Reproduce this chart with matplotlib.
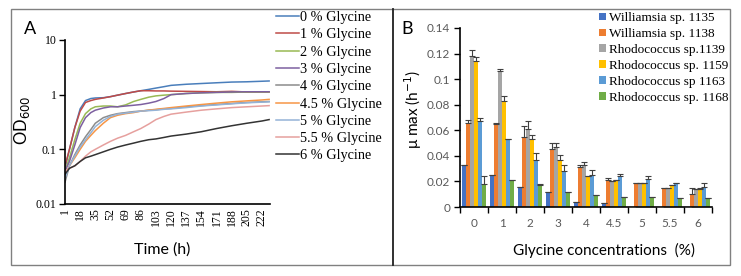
import matplotlib
matplotlib.use("Agg")
import matplotlib.pyplot as plt
import numpy as np
from matplotlib.lines import Line2D
from matplotlib.patches import Rectangle

# ---------------- Panel A data ----------------
time_h = [1, 6, 12, 18, 24, 30, 35, 44, 52, 60, 69, 78, 86, 95, 103, 112, 120, 137, 154, 171, 188, 205, 222, 230]
od_0 = [0.045, 0.1, 0.25, 0.55, 0.78, 0.85, 0.87, 0.88, 0.92, 0.98, 1.05, 1.12, 1.18, 1.25, 1.32, 1.4, 1.48, 1.55, 1.6, 1.65, 1.7, 1.72, 1.76, 1.78]
od_1 = [0.05, 0.1, 0.25, 0.5, 0.72, 0.78, 0.82, 0.87, 0.92, 0.98, 1.05, 1.12, 1.18, 1.18, 1.17, 1.17, 1.16, 1.15, 1.14, 1.13, 1.15, 1.12, 1.12, 1.12]
od_2 = [0.04, 0.07, 0.15, 0.3, 0.45, 0.55, 0.6, 0.62, 0.62, 0.6, 0.65, 0.75, 0.82, 0.9, 0.95, 0.98, 1.0, 1.05, 1.08, 1.1, 1.1, 1.12, 1.12, 1.12]
od_3 = [0.04, 0.06, 0.12, 0.25, 0.38, 0.47, 0.52, 0.57, 0.6, 0.6, 0.62, 0.64, 0.66, 0.7, 0.75, 0.85, 1.0, 1.05, 1.08, 1.1, 1.12, 1.13, 1.13, 1.13]
od_4 = [0.025, 0.05, 0.08, 0.12, 0.17, 0.23, 0.3, 0.38, 0.42, 0.45, 0.47, 0.49, 0.5, 0.52, 0.53, 0.55, 0.56, 0.6, 0.63, 0.66, 0.69, 0.72, 0.74, 0.75]
od_45 = [0.035, 0.05, 0.07, 0.1, 0.14, 0.18, 0.22, 0.3, 0.38, 0.42, 0.45, 0.47, 0.5, 0.52, 0.54, 0.56, 0.58, 0.62, 0.66, 0.7, 0.74, 0.77, 0.8, 0.82]
od_5 = [0.03, 0.05, 0.075, 0.11, 0.15, 0.2, 0.26, 0.34, 0.4, 0.44, 0.46, 0.48, 0.5, 0.51, 0.52, 0.54, 0.55, 0.58, 0.62, 0.65, 0.68, 0.71, 0.73, 0.74]
od_55 = [0.04, 0.045, 0.05, 0.06, 0.075, 0.09, 0.1, 0.12, 0.14, 0.16, 0.18, 0.21, 0.24, 0.29, 0.35, 0.4, 0.44, 0.48, 0.52, 0.55, 0.58, 0.6, 0.62, 0.63]
od_6 = [0.035, 0.045, 0.05, 0.06, 0.07, 0.075, 0.08, 0.09, 0.1, 0.11, 0.12, 0.13, 0.14, 0.15, 0.155, 0.165, 0.175, 0.19, 0.21, 0.24, 0.27, 0.3, 0.33, 0.35]
series_a = [od_0, od_1, od_2, od_3, od_4, od_45, od_5, od_55, od_6]
labels_a = ["0 % Glycine", "1 % Glycine", "2 % Glycine", "3 % Glycine", "4 % Glycine",
            "4.5 % Glycine", "5 % Glycine", "5.5 % Glycine", "6 % Glycine"]
colors_a = ["#4A7EBB", "#BE4B48", "#98B954", "#7D60A0", "#8C8C8C",
            "#F79646", "#95B3D7", "#E6A09E", "#333333"]
xticks_a = [1, 18, 35, 52, 69, 86, 103, 120, 137, 154, 171, 188, 205, 222]

# ---------------- Panel B data ----------------
glycine = ["0", "1", "2", "3", "4", "4.5", "5", "5.5", "6"]
strains = ["Williamsia sp. 1135", "Williamsia sp. 1138", "Rhodococcus sp.1139",
           "Rhodococcus sp. 1159", "Rhodococcus sp 1163", "Rhodococcus sp. 1168"]
mu_1135 = [0.033, 0.025, 0.016, 0.012, 0.004, 0.003, 0.0, 0.0, 0.0]
mu_1138 = [0.066, 0.065, 0.055, 0.045, 0.031, 0.021, 0.019, 0.015, 0.010]
mu_1139 = [0.118, 0.106, 0.061, 0.047, 0.033, 0.020, 0.019, 0.015, 0.014]
mu_1159 = [0.114, 0.083, 0.053, 0.037, 0.024, 0.021, 0.019, 0.017, 0.014]
mu_1163 = [0.067, 0.053, 0.037, 0.028, 0.025, 0.024, 0.022, 0.019, 0.016]
mu_1168 = [0.018, 0.021, 0.017, 0.012, 0.009, 0.008, 0.008, 0.007, 0.007]
err_1135 = [0.0, 0.0, 0.0, 0.0, 0.0, 0.0, 0.0, 0.0, 0.0]
err_1138 = [0.002, 0.001, 0.008, 0.005, 0.002, 0.002, 0.0, 0.0, 0.005]
err_1139 = [0.005, 0.002, 0.006, 0.003, 0.002, 0.0, 0.0, 0.0, 0.0]
err_1159 = [0.003, 0.004, 0.003, 0.004, 0.0, 0.0, 0.0, 0.0, 0.001]
err_1163 = [0.003, 0.0, 0.005, 0.005, 0.004, 0.002, 0.002, 0.0, 0.003]
err_1168 = [0.006, 0.0, 0.001, 0.0, 0.0, 0.0, 0.0, 0.0, 0.0]
series_b = [mu_1135, mu_1138, mu_1139, mu_1159, mu_1163, mu_1168]
errors_b = [err_1135, err_1138, err_1139, err_1159, err_1163, err_1168]
colors_b = ["#4472C4", "#ED7D31", "#A5A5A5", "#FFC000", "#5B9BD5", "#70AD47"]

W, H = 741, 276
fig = plt.figure(figsize=(W / 100, H / 100), dpi=100)
fig.patch.set_facecolor("white")

def fx(px):
    return px / W

def fy(py):
    return 1 - py / H

serif = ["Liberation Serif", "DejaVu Serif"]
sans = ["Lato", "DejaVu Sans"]

# outer frame and divider
fig.add_artist(Rectangle((fx(11), fy(265)), fx(730) - fx(11), fy(9) - fy(265),
                         transform=fig.transFigure, fill=False, edgecolor="#808080", lw=1.0))
fig.add_artist(Line2D([fx(393), fx(393)], [fy(265), fy(9)], transform=fig.transFigure,
                      color="#202020", lw=1.3))

# ---------------- Panel A ----------------
axA = fig.add_axes([fx(65), fy(204), fx(270) - fx(65), fy(40) - fy(204)])
for s, lab, c in zip(series_a, labels_a, colors_a):
    axA.plot(time_h, s, color=c, lw=1.1, label=lab)
axA.set_yscale("log")
axA.set_ylim(0.01, 10)
axA.set_xlim(1, 231)
axA.set_yticks([0.01, 0.1, 1, 10])
axA.set_yticklabels(["0.01", "0.1", "1", "10"], fontfamily=serif, fontsize=8.5)
axA.yaxis.set_minor_locator(matplotlib.ticker.NullLocator())
axA.set_xticks(xticks_a)
axA.set_xticklabels([str(t) for t in xticks_a], rotation=90, fontfamily=serif, fontsize=8.5)
axA.tick_params(axis="x", length=0, pad=3)
axA.tick_params(axis="y", length=4, width=1, direction="out", pad=2)
for sp in ["top", "right"]:
    axA.spines[sp].set_visible(False)
for sp in ["left", "bottom"]:
    axA.spines[sp].set_linewidth(1.2)
fig.text(fx(162), fy(250), "Time (h)", ha="center", va="center", fontfamily=sans, fontsize=11.5)
fig.text(fx(22), fy(120), "OD$_{600}$", ha="center", va="center", rotation=90,
         fontfamily=sans, fontsize=12)
fig.text(fx(30), fy(29), "A", ha="center", va="center", fontfamily=sans, fontsize=13)
legA = axA.legend(loc="upper left", bbox_to_anchor=(fx(276), fy(11)), bbox_transform=fig.transFigure,
                  frameon=False, prop={"family": serif, "size": 10.3}, handlelength=1.6,
                  handletextpad=0.1, labelspacing=0.3, borderaxespad=0, borderpad=0)

# ---------------- Panel B ----------------
axB = fig.add_axes([fx(460), fy(207), fx(712) - fx(460), fy(28) - fy(207)])
x = np.arange(len(glycine))
bw = 0.14
for i, (vals, errs, c, lab) in enumerate(zip(series_b, errors_b, colors_b, strains)):
    pos = x + (i - 2.5) * bw
    axB.bar(pos, vals, width=bw, color=c, label=lab, zorder=2)
    axB.errorbar(pos, vals, yerr=[np.zeros(len(errs)), errs], fmt="none", ecolor="#404040",
                 elinewidth=0.8, capsize=2.2, capthick=0.8, zorder=3)
axB.set_xlim(-0.5, len(glycine) - 0.5)
axB.set_ylim(0, 0.14)
axB.set_yticks([0, 0.02, 0.04, 0.06, 0.08, 0.1, 0.12, 0.14])
axB.set_yticklabels(["0", "0.02", "0.04", "0.06", "0.08", "0.1", "0.12", "0.14"],
                    fontfamily=sans, fontsize=8.5, color="#595959")
axB.set_xticks(x)
axB.set_xticklabels(glycine, fontfamily=sans, fontsize=8.5, color="#595959")
axB.set_xticks(np.arange(-0.5, len(glycine)), minor=True)
axB.tick_params(axis="x", which="major", length=0, pad=8)
axB.tick_params(axis="x", which="minor", length=4, width=1, direction="out")
axB.tick_params(axis="y", length=4, width=1, direction="out", pad=3)
for sp in ["top", "right"]:
    axB.spines[sp].set_visible(False)
for sp in ["left", "bottom"]:
    axB.spines[sp].set_linewidth(1.2)
fig.text(fx(604), fy(250), "Glycine concentrations  (%)", ha="center", va="center",
         fontfamily=sans, fontsize=11)
fig.text(fx(413), fy(110), "μ max (h$^{-1}$)", ha="center", va="center", rotation=90,
         fontfamily=sans, fontsize=11)
fig.text(fx(407), fy(29), "B", ha="center", va="center", fontfamily=sans, fontsize=13)
legB = axB.legend(loc="upper left", bbox_to_anchor=(fx(599), fy(12)), bbox_transform=fig.transFigure,
                  frameon=False, prop={"family": serif, "size": 9.5}, handlelength=0.5,
                  handleheight=0.5, handletextpad=0.25, labelspacing=0.3, borderaxespad=0,
                  borderpad=0)

fig.savefig("out.png", dpi=100)
